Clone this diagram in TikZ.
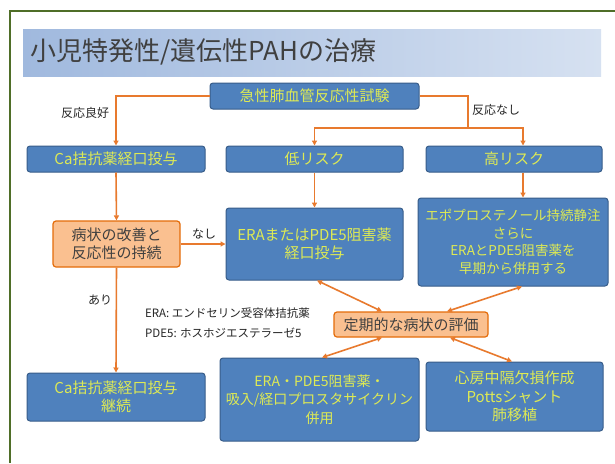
\documentclass[tikz,border=0pt]{standalone}
\usepackage{fontspec}
\setmainfont{Noto Sans CJK JP}
\usetikzlibrary{arrows.meta}
\definecolor{boxblue}{RGB}{79,129,189}
\definecolor{boxborder}{RGB}{56,93,138}
\definecolor{boxtext}{RGB}{222,234,84}
\definecolor{orfill}{RGB}{250,192,144}
\definecolor{ordraw}{RGB}{228,108,10}
\definecolor{conn}{RGB}{232,122,46}
\definecolor{framegreen}{RGB}{79,110,40}
\definecolor{titletext}{RGB}{64,64,64}
\definecolor{banL}{RGB}{160,185,222}
\definecolor{banR}{RGB}{214,225,241}
\tikzset{
  bluebox/.style={draw=boxborder, fill=boxblue, rounded corners=3pt, text=boxtext,
    font=\fontsize{15}{18}\selectfont, align=center, inner sep=0pt, line width=1pt},
  orbox/.style={draw=ordraw, fill=orfill, rounded corners=3pt, text=titletext,
    font=\fontsize{15}{18}\selectfont, align=center, inner sep=0pt, line width=1.2pt},
  conn/.style={draw=conn, line width=1.6pt},
  arr/.style={conn, -{Triangle[length=5pt,width=5pt]}},
  darr/.style={conn, {Triangle[length=5pt,width=5pt]}-{Triangle[length=5pt,width=5pt]}},
  lbl/.style={font=\fontsize{12}{14}\selectfont, text=black!85, inner sep=0pt},
  legend/.style={font=\fontsize{11.5}{13}\selectfont, text=black!85, inner sep=0pt, anchor=west}
}
\begin{document}
\begin{tikzpicture}[x=1pt,y=-1pt]
\useasboundingbox (0,0) rectangle (615,463);
\fill[white] (0,0) rectangle (615,463);
% frame
\draw[framegreen, line width=1.6pt] (10,463) -- (10,11) -- (615,11);
% title banner
\shade[left color=banL, right color=banR] (23,29) rectangle (601,76);
\node[anchor=west, text=titletext, font=\fontsize{26}{30}\selectfont, inner sep=0pt] (title) at (30,52) {小児特発性/遺伝性PAHの治療};

% nodes
\node[bluebox, minimum width=209pt, minimum height=26pt] (top) at (314.5,96) {急性肺血管反応性試験};
\node[bluebox, minimum width=178pt, minimum height=26pt] (ca) at (116,159) {Ca拮抗薬経口投与};
\node[bluebox, minimum width=177pt, minimum height=26pt] (low) at (314.5,159) {低リスク};
\node[bluebox, minimum width=176pt, minimum height=26pt] (high) at (514,159) {高リスク};
\node[orbox, minimum width=127pt, minimum height=46pt] (imp) at (116.5,244) {病状の改善と\\反応性の持続};
\node[bluebox, minimum width=177pt, minimum height=72pt] (era) at (314.5,244) {ERAまたはPDE5阻害薬\\経口投与};
\node[bluebox, minimum width=190pt, minimum height=88pt, font=\fontsize{13.5}{17.5}\selectfont] (epo) at (513,242) {エポプロステノール持続静注\\さらに\\ERAとPDE5阻害薬を\\早期から併用する};
\node[orbox, minimum width=154pt, minimum height=25pt] (eval) at (411,324.5) {定期的な病状の評価};
\node[bluebox, minimum width=199pt, minimum height=83pt, font=\fontsize{14}{18.5}\selectfont] (combo) at (319.5,399.5) {ERA・PDE5阻害薬・\\吸入/経口プロスタサイクリン\\併用};
\node[bluebox, minimum width=177pt, minimum height=69pt, font=\fontsize{15}{18.5}\selectfont] (surg) at (514.5,396.5) {心房中隔欠損作成\\Pottsシャント\\肺移植};
\node[bluebox, minimum width=178pt, minimum height=48pt] (cacont) at (116,397) {Ca拮抗薬経口投与\\継続};

% labels
\node[lbl] (lgood) at (85,113) {反応良好};
\node[lbl] (lnone) at (496,110) {反応なし};
\node[lbl] (lnashi) at (204,234) {なし};
\node[lbl] (lari) at (100,300) {あり};
\node[legend] (leg1) at (145,313) {ERA: エンドセリン受容体拮抗薬};
\node[legend] (leg2) at (145,333) {PDE5: ホスホジエステラーゼ5};

% connectors
\coordinate (split) at (468,128);
\draw[arr] (top.west) -| (ca.north);
\draw[conn] (top.east) -| (split);
\draw[arr] (split) -| (low.north);
\draw[arr] (split) -| ([xshift=9pt]high.north);
\draw[arr] (ca.south) -- (imp.north);
\draw[arr] (low.south) -- (era.north);
\draw[arr] ([xshift=9pt]high.south) -- ([xshift=9pt]high.south |- epo.north);
\draw[arr] (imp.east) -- (imp.east -| era.west);
\draw[arr] (imp.south) -- (cacont.north);
\draw[darr] ([xshift=2.5pt]era.south) -- ([xshift=-29pt]eval.north);
\draw[darr] ([xshift=9pt]epo.south) -- ([xshift=36pt]eval.north);
\draw[darr] ([xshift=-29pt]eval.south) -- ([xshift=2.5pt]combo.north);
\draw[darr] ([xshift=39pt]eval.south) -- ([xshift=-2.5pt]surg.north);
\end{tikzpicture}
\end{document}
